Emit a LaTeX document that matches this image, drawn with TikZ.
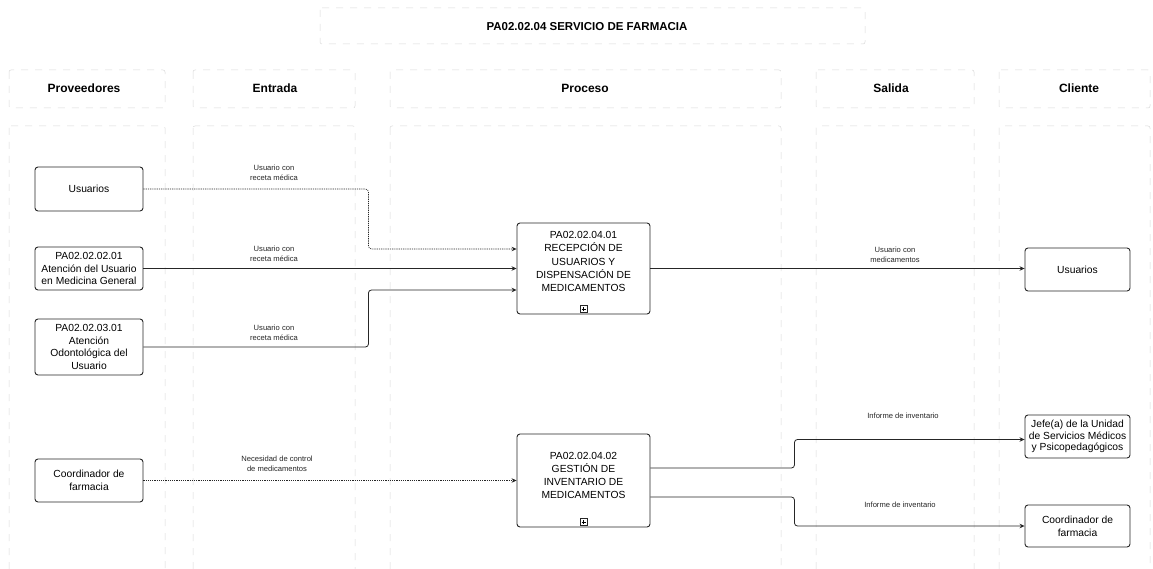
\documentclass[tikz,border=0pt]{standalone}
\usepackage{fontspec}
\setmainfont{Liberation Sans}
\usetikzlibrary{arrows.meta}

\begin{document}
\begin{tikzpicture}[x=1pt,y=-1pt,
  lane/.style={draw=black!15, dash pattern=on 7pt off 7pt, line width=0.5pt, rounded corners=2pt},
  box/.style={draw=black!85, line width=0.9pt, rounded corners=3pt, align=center,
    font=\fontsize{10.3}{12.8}\selectfont, inner sep=1pt, minimum width=108pt},
  cbox/.style={box, minimum width=105pt},
  pbox/.style={draw=black!85, line width=0.9pt, rounded corners=3pt, minimum width=133pt},
  ptext/.style={align=center, font=\fontsize{10.3}{13.3}\selectfont, inner sep=0pt},
  marker/.style={draw=black!85, line width=0.6pt, minimum size=7pt, inner sep=0pt, anchor=south},
  lbl/.style={align=center, font=\fontsize{7.6}{9.8}\selectfont, inner sep=0pt, text=black!85},
  hdr/.style={font=\fontsize{12}{14}\selectfont\bfseries},
  flow/.style={draw=black!85, line width=0.8pt, rounded corners=3pt,
    -{Stealth[length=5pt,width=4.5pt]}},
  flowdot/.style={flow, line width=0.7pt, dash pattern=on 1.2pt off 1pt},
]
% page
\fill[white] (0,0) rectangle (1153,569);
\useasboundingbox (0,0) rectangle (1153,569);

% title, column headers and lanes
\begin{scope}
\clip (0,0) rectangle (1153,569);
\draw[lane] (320,8) rectangle (865,44);
\foreach \a/\b in {9/165, 193/355, 390/781, 816/974, 999/1150} {
  \draw[lane] (\a,70) rectangle (\b,108);
  \draw[lane] (\a,126) rectangle (\b,600);
}
\end{scope}

\node[font=\fontsize{11.5}{14}\selectfont\bfseries] (title) at (587,27) {PA02.02.04 SERVICIO DE FARMACIA};
\node[hdr] (hprov) at (84,88) {Proveedores};
\node[hdr] (hent) at (275,88) {Entrada};
\node[hdr] (hproc) at (585,88) {Proceso};
\node[hdr] (hsal) at (891,88) {Salida};
\node[hdr] (hcli) at (1079,88) {Cliente};

% suppliers
\node[box, minimum height=44pt] (u1) at (89,189) {Usuarios};
\node[box, minimum height=43pt] (m1) at (89,268.5) {PA02.02.02.01\\Atención del Usuario\\en Medicina General};
\node[box, minimum height=56pt] (o1) at (89,347) {PA02.02.03.01\\Atención\\Odontológica del\\Usuario};
\node[box, minimum height=43pt] (c1) at (89,480.5) {Coordinador de\\farmacia};

% processes
\node[pbox, minimum height=91pt] (p1) at (583.5,268.5) {};
\node[ptext] (p1t) at ([yshift=7pt]p1.center) {PA02.02.04.01\\RECEPCIÓN DE\\USUARIOS Y\\DISPENSACIÓN DE\\MEDICAMENTOS};
\node[marker] (k1) at ([yshift=1.5pt]p1.south) {};
\draw[line width=0.6pt] ([xshift=-2pt]k1.center) -- ([xshift=2pt]k1.center)
  ([yshift=-2pt]k1.center) -- ([yshift=2pt]k1.center);

\node[pbox, minimum height=93pt] (p2) at (583.5,480.5) {};
\node[ptext] (p2t) at ([yshift=5pt]p2.center) {PA02.02.04.02\\GESTIÓN DE\\INVENTARIO DE\\MEDICAMENTOS};
\node[marker] (k2) at ([yshift=1.5pt]p2.south) {};
\draw[line width=0.6pt] ([xshift=-2pt]k2.center) -- ([xshift=2pt]k2.center)
  ([yshift=-2pt]k2.center) -- ([yshift=2pt]k2.center);

% clients
\node[cbox, minimum height=43pt] (u2) at (1077.5,269.5) {Usuarios};
\node[cbox, minimum height=43pt, font=\fontsize{10.3}{11.6}\selectfont] (j2) at (1077.5,436.5) {Jefe(a) de la Unidad\\de Servicios Médicos\\y Psicopedagógicos};
\node[cbox, minimum height=42pt] (c2) at (1077.5,526) {Coordinador de\\farmacia};

% inputs
\draw[flowdot] (u1.east) -- ++(225,0) |- ([yshift=19.5pt]p1.west);
\draw[flow] (m1.east) -- (p1.west);
\draw[flow] (o1.east) -- ++(225,0) |- ([yshift=-21.5pt]p1.west);
\draw[flowdot] (c1.east) -- (p2.west);

% outputs
\draw[flow] (p1.east) -- (u2.west |- p1.east);
\draw[flow] ([yshift=12.5pt]p2.east) -- ++(144,0) |- ([yshift=-3pt]j2.west);
\draw[flow] ([yshift=-16.5pt]p2.east) -- ++(144,0) |- (c2.west);

% connector labels
\node[lbl] (l1) at (274,173) {Usuario con\\receta médica};
\node[lbl] (l2) at (274,253.5) {Usuario con\\receta médica};
\node[lbl] (l3) at (274,332.5) {Usuario con\\receta médica};
\node[lbl] (l4) at (277,464) {Necesidad de control\\de medicamentos};
\node[lbl] (l5) at (895,255) {Usuario con\\medicamentos};
\node[lbl] (l6) at (903,416) {Informe de inventario};
\node[lbl] (l7) at (900,505) {Informe de inventario};
\end{tikzpicture}
\end{document}
